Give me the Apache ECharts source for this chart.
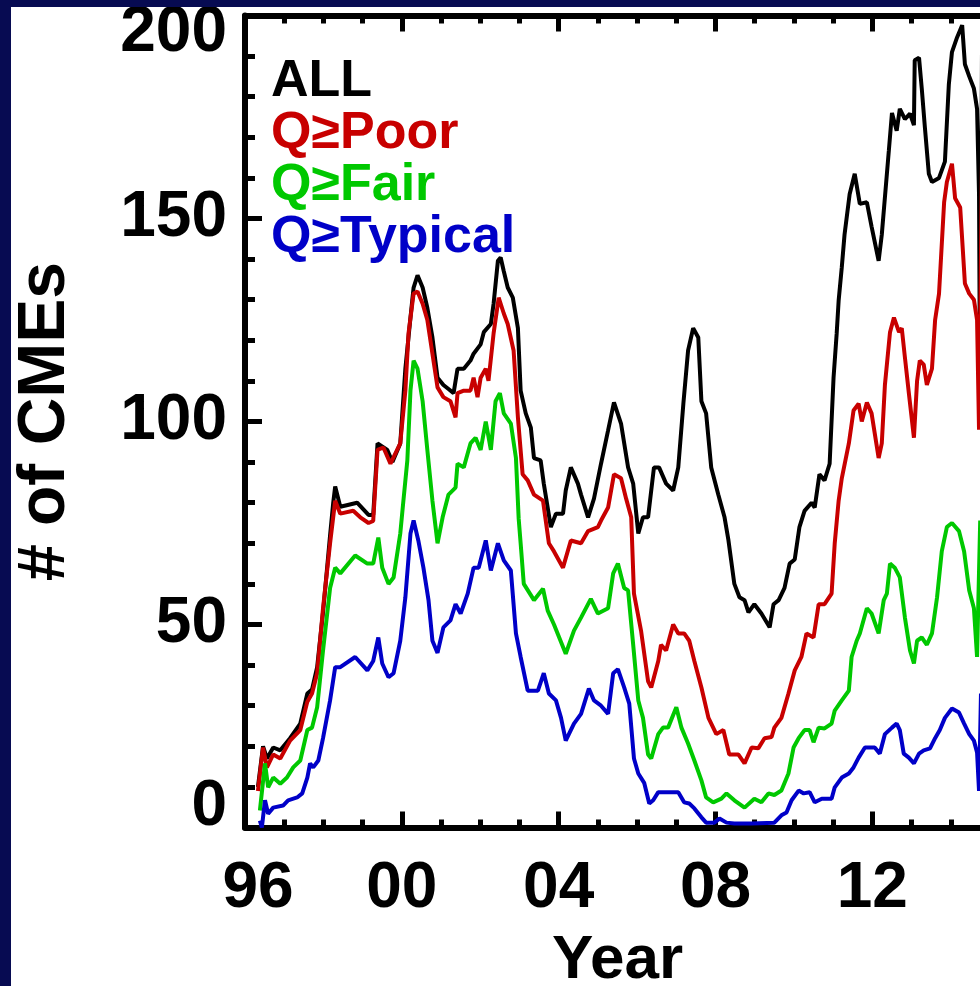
<!DOCTYPE html>
<html>
<head>
<meta charset="utf-8">
<script src="https://cdn.jsdelivr.net/npm/echarts@6/dist/echarts.min.js"></script>
<style>
  html, body { margin: 0; padding: 0; background: #070b52; width: 980px; height: 986px; overflow: hidden; position: relative; }
  #chart { position: absolute; left: 11px; top: 7px; width: 979px; height: 979px; background: #ffffff; }
</style>
</head>
<body>
<div id="chart"></div>
<script>
// ---- data ----
const seriesNames = ['ALL', 'Q\u2265Poor', 'Q\u2265Fair', 'Q\u2265Typical'];
const seriesColors = ['#000000', '#c80000', '#00c800', '#0000c8'];
const yTicks = [0, 50, 100, 150, 200];
const xTickYears = [1996, 2000, 2004, 2008, 2012];

const allCMEs = [[1996.33,10],[1996.46,20],[1996.56,17],[1996.72,19.7],[1996.90,19],[1997.15,22],[1997.41,25.6],[1997.59,33],[1997.71,34],[1997.84,39.5],[1997.99,53],[1998.17,72],[1998.25,80],[1998.30,84],[1998.43,79],[1998.86,80],[1999.15,77],[1999.27,77],[1999.38,94.6],[1999.63,93],[1999.76,90],[1999.96,94.6],[2000.09,113],[2000.22,125.6],[2000.30,133],[2000.40,136],[2000.53,133],[2000.65,128],[2000.78,120.7],[2000.91,110.8],[2001.06,109],[2001.19,108],[2001.32,107],[2001.42,113],[2001.58,113],[2001.75,115],[2001.83,116.7],[2002.01,119],[2002.09,122],[2002.27,124],[2002.34,129],[2002.45,139.6],[2002.52,140.4],[2002.60,137],[2002.70,133],[2002.83,130.5],[2002.96,123],[2003.03,107.6],[2003.16,102],[2003.29,98.5],[2003.37,91],[2003.54,90.4],[2003.62,84.7],[2003.80,74],[2003.93,77.3],[2004.11,77.3],[2004.18,83],[2004.31,88.7],[2004.49,84.7],[2004.57,82],[2004.75,76.4],[2004.90,81],[2005.08,89.6],[2005.26,97.8],[2005.41,104.7],[2005.59,99.5],[2005.77,88.7],[2005.90,84.7],[2006.03,72.4],[2006.15,76.4],[2006.28,76.4],[2006.43,88.7],[2006.56,88.7],[2006.74,84.7],[2006.92,83],[2007.05,88.7],[2007.18,104.4],[2007.30,117.5],[2007.43,123],[2007.56,120.7],[2007.64,105],[2007.76,102],[2007.89,88.7],[2008.07,82],[2008.23,76.4],[2008.33,70.7],[2008.48,60],[2008.61,56.7],[2008.74,56],[2008.84,53],[2008.99,55],[2009.17,52.7],[2009.38,49.3],[2009.48,55],[2009.61,56],[2009.76,59],[2009.89,65],[2010.02,66],[2010.14,74],[2010.27,78],[2010.45,80],[2010.53,78.8],[2010.65,87],[2010.78,85.5],[2010.91,89.6],[2011.01,110.8],[2011.09,121.7],[2011.14,129.8],[2011.22,138],[2011.29,146],[2011.42,156],[2011.55,161],[2011.68,153.6],[2011.86,154],[2011.98,148],[2012.16,139.6],[2012.24,146],[2012.42,166.7],[2012.50,176],[2012.62,171.6],[2012.70,177],[2012.83,174.5],[2012.96,175.8],[2013.06,173],[2013.08,189],[2013.19,189.6],[2013.26,182],[2013.34,172.4],[2013.44,161],[2013.52,159],[2013.70,160],[2013.85,164],[2013.95,183],[2014.03,191],[2014.16,194.6],[2014.29,197.6],[2014.36,188],[2014.47,185],[2014.59,182],[2014.67,177],[2014.72,156],[2014.75,100],[2014.80,200]];

const poorCMEs = [[1996.33,9],[1996.46,19.7],[1996.56,14.8],[1996.72,18],[1996.90,17],[1997.15,21.4],[1997.41,24],[1997.59,31],[1997.71,33],[1997.84,38],[1997.99,54],[1998.17,70],[1998.30,80.5],[1998.43,77.3],[1998.76,78],[1998.94,76.4],[1999.15,75],[1999.27,75.5],[1999.38,93],[1999.53,93.6],[1999.71,89.6],[1999.96,94.6],[2000.09,107.6],[2000.17,121.7],[2000.30,131.5],[2000.40,132],[2000.53,129],[2000.65,125],[2000.78,116.7],[2000.91,108.4],[2001.06,106],[2001.24,105],[2001.37,101],[2001.42,107],[2001.58,107.6],[2001.75,107.6],[2001.83,110.8],[2001.93,106],[2002.01,110.8],[2002.14,113],[2002.21,110],[2002.34,121.7],[2002.47,130.5],[2002.60,126.6],[2002.70,124],[2002.85,117.5],[2002.96,101],[2003.08,87],[2003.21,85.5],[2003.37,82],[2003.60,80.5],[2003.75,70],[2003.88,68],[2004.11,64],[2004.31,70.7],[2004.57,70],[2004.75,73],[2005.00,74],[2005.08,75.6],[2005.26,78.8],[2005.41,87],[2005.59,86],[2005.72,81],[2005.85,76.4],[2005.92,57.6],[2006.10,48.5],[2006.28,36],[2006.36,34.5],[2006.54,41],[2006.61,45],[2006.74,43.6],[2006.92,50],[2007.05,47.8],[2007.20,47.8],[2007.33,46],[2007.46,41],[2007.64,34.5],[2007.82,27],[2008.02,23],[2008.20,24],[2008.35,18],[2008.58,18],[2008.74,15.8],[2008.92,19.7],[2009.09,19.5],[2009.25,22],[2009.43,22.3],[2009.50,24.6],[2009.68,27],[2009.86,33],[2010.02,38.7],[2010.19,42],[2010.32,47.8],[2010.50,46.8],[2010.63,55],[2010.78,55],[2010.96,57.6],[2011.04,70],[2011.14,80.5],[2011.22,86],[2011.40,94.6],[2011.52,102.7],[2011.65,104.4],[2011.73,100],[2011.86,104.7],[2011.98,102],[2012.16,91],[2012.24,94.6],[2012.32,109],[2012.45,122],[2012.55,125.6],[2012.68,122],[2012.75,123],[2012.83,115.8],[2012.93,107],[2013.06,96],[2013.14,110],[2013.21,115],[2013.31,114],[2013.39,109],[2013.52,113],[2013.60,125],[2013.70,131.5],[2013.83,154],[2013.90,159],[2014.03,163.5],[2014.11,155],[2014.24,152.7],[2014.36,134],[2014.47,131.5],[2014.59,130],[2014.67,125],[2014.72,98],[2014.80,168]];

const fairCMEs = [[1996.38,4.2],[1996.51,15.8],[1996.59,9.9],[1996.72,12.3],[1996.90,10.8],[1997.07,12.3],[1997.23,14.8],[1997.41,16.5],[1997.59,24],[1997.71,24.6],[1997.84,29.6],[1997.99,43.6],[1998.17,59],[1998.30,64],[1998.43,62.6],[1998.81,67],[1999.12,65],[1999.27,65],[1999.40,71.4],[1999.50,64],[1999.66,60],[1999.79,61.6],[1999.96,72.4],[2000.04,80.5],[2000.14,90.4],[2000.22,107.6],[2000.30,115],[2000.40,113],[2000.53,105],[2000.65,93],[2000.78,80.5],[2000.91,70],[2001.04,76.4],[2001.19,82],[2001.37,83.7],[2001.42,89.6],[2001.58,88.7],[2001.75,94.6],[2001.88,96],[2002.01,93],[2002.14,100],[2002.27,93],[2002.39,105],[2002.50,107],[2002.60,102],[2002.78,99.5],[2002.91,91],[2002.98,76],[2003.03,70],[2003.11,60],[2003.37,56],[2003.60,58.8],[2003.72,53.4],[2003.88,50],[2004.18,42.8],[2004.39,48.5],[2004.57,51.7],[2004.82,56.3],[2005.00,52.7],[2005.26,54],[2005.39,62.6],[2005.51,65],[2005.67,59],[2005.77,58.4],[2005.90,45],[2006.03,31.3],[2006.15,27],[2006.28,18],[2006.36,17],[2006.54,23],[2006.66,24.6],[2006.79,24.6],[2007.00,29.6],[2007.13,24.6],[2007.30,20.7],[2007.46,16.5],[2007.64,11.6],[2007.76,7.4],[2007.94,6.2],[2008.15,7.1],[2008.28,8.4],[2008.48,6.7],[2008.74,4.9],[2008.99,7.1],[2009.17,6.2],[2009.35,8.4],[2009.50,8],[2009.68,9.1],[2009.86,13.3],[2009.99,19.7],[2010.12,22],[2010.27,24],[2010.40,24],[2010.50,21],[2010.63,24.6],[2010.78,24.4],[2010.96,25.6],[2011.04,28.8],[2011.22,31.3],[2011.40,33.7],[2011.47,42],[2011.60,46],[2011.68,47.8],[2011.86,54],[2011.98,52.7],[2012.16,47.8],[2012.29,56],[2012.37,57.6],[2012.45,65],[2012.57,64],[2012.70,61.6],[2012.83,51.7],[2012.96,43.6],[2013.06,40.4],[2013.14,46],[2013.26,46.8],[2013.39,45],[2013.52,47.8],[2013.65,56.7],[2013.77,68],[2013.90,74],[2014.03,75],[2014.21,73],[2014.34,68],[2014.47,58.4],[2014.59,54],[2014.67,42],[2014.75,75.6]];

const typicalCMEs = [[1996.38,1.7],[1996.43,0],[1996.51,6.7],[1996.59,3.4],[1996.72,4.9],[1996.97,5.4],[1997.10,6.7],[1997.33,7.4],[1997.46,8.4],[1997.59,12.3],[1997.66,15.8],[1997.74,14.8],[1997.87,16.5],[1997.99,22],[1998.17,31.3],[1998.30,39.5],[1998.43,39.5],[1998.81,42],[1999.12,38.7],[1999.27,41],[1999.40,46.8],[1999.50,40.4],[1999.66,37],[1999.79,38],[1999.96,46],[2000.09,56.7],[2000.22,72.4],[2000.30,75.6],[2000.42,70.7],[2000.55,64],[2000.68,56],[2000.78,46],[2000.91,43],[2001.06,49.3],[2001.24,51],[2001.37,55],[2001.50,52.7],[2001.68,57.6],[2001.83,64],[2001.96,64],[2002.14,70.7],[2002.27,63.3],[2002.45,70],[2002.60,65.8],[2002.78,63.3],[2002.91,47.8],[2003.03,42],[2003.21,33.7],[2003.47,33.7],[2003.62,38],[2003.75,33],[2003.93,31.3],[2004.06,27],[2004.18,21.4],[2004.39,25.6],[2004.57,28],[2004.77,34.2],[2004.90,31.3],[2005.08,30],[2005.26,28],[2005.39,38],[2005.51,39],[2005.67,34.5],[2005.80,30.5],[2005.92,17],[2006.03,13.3],[2006.18,11],[2006.31,5.9],[2006.41,6.7],[2006.54,8.7],[2006.79,8.7],[2007.05,8.7],[2007.20,6.2],[2007.33,5.9],[2007.46,4.7],[2007.64,2.5],[2007.76,1.2],[2007.97,1.2],[2008.10,2.2],[2008.28,1.2],[2008.48,1],[2008.92,1],[2009.50,1.2],[2009.68,3],[2009.81,3.7],[2009.94,6.7],[2010.12,9.1],[2010.25,8.4],[2010.40,8.7],[2010.53,6.2],[2010.71,7.1],[2010.96,7.1],[2011.04,9.9],[2011.22,12.3],[2011.40,13.3],[2011.52,14.8],[2011.65,17.2],[2011.81,19.7],[2012.06,19.7],[2012.19,18.2],[2012.32,23],[2012.50,24.6],[2012.62,25.6],[2012.70,24],[2012.80,18.2],[2012.93,17.2],[2013.06,15.8],[2013.19,18.2],[2013.31,19],[2013.47,19.5],[2013.60,22],[2013.72,24],[2013.85,27],[2014.03,29.3],[2014.21,28.3],[2014.34,25.6],[2014.47,23],[2014.59,21.4],[2014.67,18.5],[2014.72,9],[2014.77,33]];

const seriesData = [allCMEs, poorCMEs, fairCMEs, typicalCMEs];

// ---- chart ----
const FONT = '"Liberation Sans", Arial, Helvetica, sans-serif';
function bigFont(size, extra) {
  return Object.assign({ fontFamily: FONT, fontWeight: 'bold', fontSize: size, color: '#000' }, extra || {});
}
function xAxisBase(pos) {
  return {
    type: 'value', gridIndex: 0, position: pos, min: 1996, max: 2015, interval: 4,
    show: true,
    axisLine: { show: true, onZero: false, lineStyle: { color: '#000', width: 6 } },
    axisTick: { show: true, inside: true, length: 16, lineStyle: { color: '#000', width: 5 } },
    minorTick: { show: true, splitNumber: 4, length: 8, lineStyle: { color: '#000', width: 5 } },
    splitLine: { show: false },
    minorSplitLine: { show: false }
  };
}

const chart = echarts.init(document.getElementById('chart'), null, { renderer: 'canvas' });

const xBottom = Object.assign(xAxisBase('bottom'), {
  name: 'Year', nameLocation: 'middle', nameGap: 102,
  nameTextStyle: bigFont(62),
  axisLabel: Object.assign(bigFont(64), {
    show: true, margin: 30,
    formatter: function (v) {
      if (xTickYears.indexOf(v) < 0) return '';
      const s = String(v % 100).padStart(2, '0');
      return v === 1996 ? '{first|' + s + '}' : s;
    },
    rich: { first: bigFont(64, { padding: [0, 0, 0, 26] }) }
  })
});
const xTop = Object.assign(xAxisBase('top'), { axisLabel: { show: false } });

chart.setOption({
  animation: false,
  backgroundColor: '#ffffff',
  grid: { left: 234, top: 8.5, right: 0, bottom: 158.5, containLabel: false, outerBoundsMode: 'none' },
  legend: {
    orient: 'vertical', left: 250, top: 44,
    icon: 'rect', itemWidth: 0, itemHeight: 0, itemGap: 0,
    selectedMode: false,
    textStyle: { fontFamily: FONT, fontWeight: 'bold', fontSize: 52, lineHeight: 50 },
    data: seriesNames.map((n, i) => ({ name: n, textStyle: { color: seriesColors[i] } }))
  },
  xAxis: [xBottom, xTop],
  yAxis: {
    type: 'value', min: 0, max: 200, interval: 50,
    name: '# of CMEs', nameLocation: 'middle', nameGap: 166, nameRotate: 90,
    nameTextStyle: bigFont(66),
    axisLine: { show: true, lineStyle: { color: '#000', width: 6 } },
    axisTick: { show: true, inside: true, length: 17, lineStyle: { color: '#000', width: 5 } },
    minorTick: { show: true, splitNumber: 5, length: 10, lineStyle: { color: '#000', width: 5 } },
    splitLine: { show: false },
    axisLabel: Object.assign(bigFont(64), {
      show: true, margin: 18,
      formatter: function (v) {
        if (yTicks.indexOf(v) < 0) return '';
        if (v === 200) return '{hi|200}';
        if (v === 0) return '{lo|0}';
        return String(v);
      },
      rich: {
        hi: bigFont(64, { padding: [35, 0, 0, 0] }),
        lo: bigFont(64, { padding: [0, 0, 40, 0] })
      }
    })
  },
  series: seriesNames.map((n, i) => ({
    name: n, type: 'line', xAxisIndex: 0, yAxisIndex: 0,
    data: seriesData[i], showSymbol: false, symbol: 'none',
    clip: true,
    lineStyle: { color: seriesColors[i], width: 4 },
    itemStyle: { color: seriesColors[i] },
    emphasis: { disabled: true }
  }))
});
</script>
</body>
</html>
